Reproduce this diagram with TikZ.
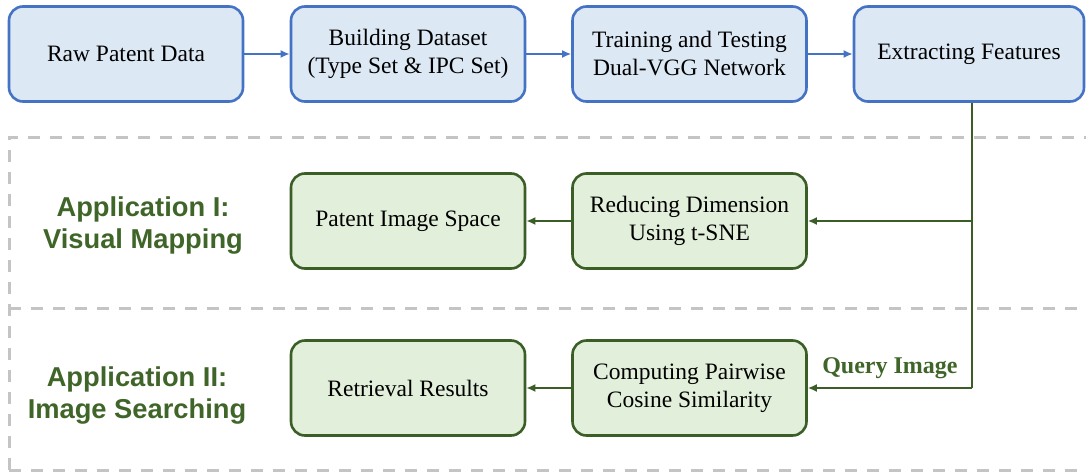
\documentclass[tikz,border=0pt]{standalone}
\usepackage{fontspec}
\setmainfont{Liberation Serif}
\newfontfamily\appfont{Liberation Sans}
\usetikzlibrary{arrows.meta}
\definecolor{bluebd}{HTML}{4472C4}
\definecolor{bluefill}{HTML}{DDE8F5}
\definecolor{greenbd}{HTML}{3B5E27}
\definecolor{greenfill}{HTML}{E2EFDA}
\definecolor{greentxt}{HTML}{3F6529}
\definecolor{dashgray}{HTML}{C4C4C4}
\tikzset{
  bluebox/.style={draw=bluebd, fill=bluefill, line width=2.6pt, rounded corners=14pt,
    minimum width=234pt, minimum height=95pt, align=center, inner sep=0pt,
    font=\fontsize{23.5}{28}\selectfont},
  greenbox/.style={bluebox, draw=greenbd, fill=greenfill},
  bluearrow/.style={draw=bluebd, line width=2pt, -{Latex[length=9pt,width=8pt]}},
  greenarrow/.style={draw=greenbd, line width=2.4pt, -{Latex[length=9pt,width=8pt]}},
  greenline/.style={draw=greenbd, line width=2.4pt},
  sep/.style={draw=dashgray, line width=3pt, dash pattern=on 12pt off 10pt},
  applabel/.style={text=greentxt, align=center, font=\appfont\bfseries\fontsize{27.3}{32}\selectfont},
  querylabel/.style={text=greentxt, font=\bfseries\fontsize{24}{28}\selectfont},
}
\begin{document}
\begin{tikzpicture}[x=1pt,y=-1pt]
\useasboundingbox (0,0) rectangle (1086,474);
\clip (0,0) rectangle (1086,474);
% dashed separators
\draw[sep] (9,470) -- (9,137) -- (1100,137);
\draw[sep] (9,308) -- (1100,308);
\draw[sep] (9,470) -- (1100,470);
% top row
\node[bluebox] (raw) at (126,54) {Raw Patent Data};
\node[bluebox] (build) at (408,54) {Building Dataset\\(Type Set \& IPC Set)};
\node[bluebox] (train) at (689.5,54) {Training and Testing\\Dual-VGG Network};
\node[bluebox, minimum width=230pt] (extract) at (969,54) {Extracting Features};
\draw[bluearrow] (raw) -- (build);
\draw[bluearrow] (build) -- (train);
\draw[bluearrow] (train) -- (extract);
% application rows
\node[applabel] (app1) at (143,225) {Application I:\\Visual Mapping};
\node[applabel] (app2) at (137,395) {Application II:\\Image Searching};
\node[greenbox] (space) at (408,221) {Patent Image Space};
\node[greenbox] (reduce) at (689.5,221) {Reducing Dimension\\Using t-SNE};
\node[greenbox] (results) at (408,388) {Retrieval Results};
\node[greenbox] (cosine) at (689.5,388) {Computing Pairwise\\Cosine Similarity};
\coordinate (top) at ([xshift=3pt]extract.south);
\coordinate (branch) at (top |- reduce.east);
\coordinate (corner) at (top |- cosine.east);
\draw[greenline] (top) -- (corner);
\draw[greenarrow] (branch) -- (reduce.east);
\draw[greenarrow] (corner) -- node[querylabel, above=5pt] (query) {Query Image} (cosine.east);
\draw[greenarrow] (reduce) -- (space);
\draw[greenarrow] (cosine) -- (results);
\end{tikzpicture}
\end{document}
